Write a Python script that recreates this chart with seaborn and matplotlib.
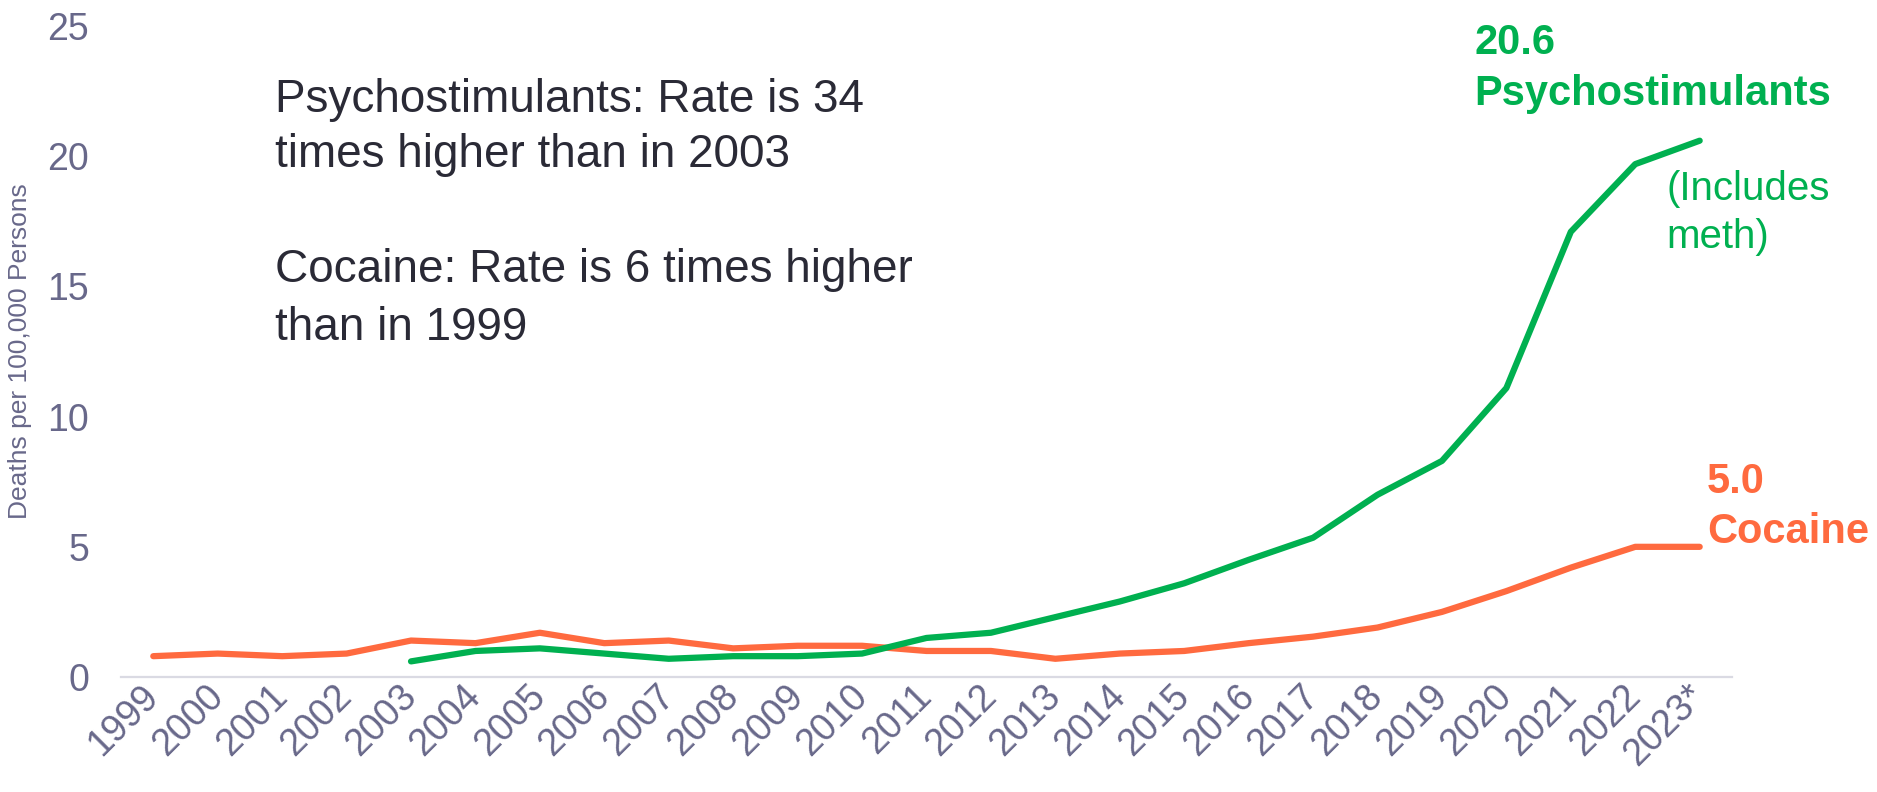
import numpy as np
import pandas as pd
import matplotlib
matplotlib.use("Agg")
import matplotlib.pyplot as plt
import seaborn as sns

YEARS = [str(y) for y in range(1999, 2023)] + ["2023*"]
COCAINE = [0.8, 0.9, 0.8, 0.9, 1.4, 1.3, 1.7, 1.3, 1.4, 1.1, 1.2, 1.2,
           1.0, 1.0, 0.7, 0.9, 1.0, 1.3, 1.55, 1.9, 2.5, 3.3, 4.2, 5.0, 5.0]
PSYCHO = [np.nan, np.nan, np.nan, np.nan, 0.6, 1.0, 1.1, 0.9, 0.7, 0.8, 0.8, 0.9,
          1.5, 1.7, 2.3, 2.9, 3.6, 4.5, 5.35, 7.0, 8.3, 11.1, 17.1, 19.7, 20.6]
Y_TICKS = [0, 5, 10, 15, 20, 25]

GREEN = "#00B050"
ORANGE = "#FF6A3F"
TICK_COLOR = "#68688A"
TEXT_COLOR = "#2A2A36"

NOTE_LINES = ["Psychostimulants: Rate is 34", "times higher than in 2003",
              "Cocaine: Rate is 6 times higher", "than in 1999"]

df = pd.concat([
    pd.DataFrame({"year": YEARS, "rate": COCAINE, "drug": "Cocaine"}),
    pd.DataFrame({"year": YEARS, "rate": PSYCHO, "drug": "Psychostimulants"}),
]).dropna()

sns.set_theme(style="white")
plt.rcParams["font.family"] = ["Liberation Sans", "DejaVu Sans"]

fig = plt.figure(figsize=(18.77, 7.92), dpi=100)
ax = fig.add_axes([0.0645, 0.1452, 0.8582, 0.8218])

sns.lineplot(data=df, x="year", y="rate", hue="drug",
             palette={"Cocaine": ORANGE, "Psychostimulants": GREEN},
             linewidth=4.5, legend=False, sort=False, ax=ax,
             solid_capstyle="round")

ax.set_xlim(-0.5, len(YEARS) - 0.5)
ax.set_ylim(0, 25)
ax.set_yticks(Y_TICKS)
ax.set_yticklabels([str(t) for t in Y_TICKS])
sns.despine(ax=ax, left=True)
ax.spines["bottom"].set_color("#DADAE3")
ax.spines["bottom"].set_linewidth(1.6)
ax.tick_params(axis="y", length=0, pad=23, labelsize=27, labelcolor=TICK_COLOR)
ax.tick_params(axis="x", length=0, pad=10, labelsize=27, labelcolor=TICK_COLOR)
for lab in ax.get_xticklabels():
    lab.set_rotation(45)
    lab.set_ha("right")
    lab.set_va("center")
    lab.set_rotation_mode("anchor")

ax.set_xlabel("")
ax.set_ylabel("Deaths per 100,000 Persons", fontsize=19, color=TICK_COLOR)
ax.yaxis.set_label_coords(-0.055, 0.5)

# left-hand note
for txt, yb in zip(NOTE_LINES, [21.70, 19.59, 15.17, 12.94]):
    ax.text(1.89, yb, txt, fontsize=33, color=TEXT_COLOR, va="baseline")

# end-of-line labels
ax.text(20.5, 23.92, "20.6", fontsize=30, fontweight="bold", color=GREEN,
        va="baseline", clip_on=False)
ax.text(20.5, 21.97, "Psychostimulants", fontsize=30, fontweight="bold",
        color=GREEN, va="baseline", clip_on=False)
ax.text(23.49, 18.32, "(Includes", fontsize=29, color=GREEN, va="baseline",
        clip_on=False)
ax.text(23.49, 16.47, "meth)", fontsize=29, color=GREEN, va="baseline",
        clip_on=False)
ax.text(24.11, 7.07, "5.0", fontsize=30, fontweight="bold", color=ORANGE,
        va="baseline", clip_on=False)
ax.text(24.11, 5.15, "Cocaine", fontsize=30, fontweight="bold", color=ORANGE,
        va="baseline", clip_on=False)

fig.savefig("out.png", dpi=100)
